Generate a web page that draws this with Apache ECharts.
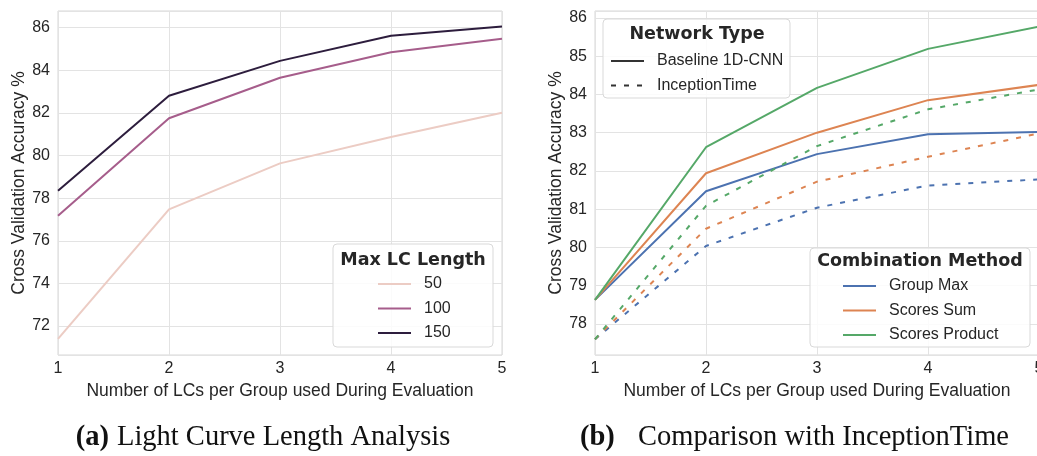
<!DOCTYPE html>
<html>
<head>
<meta charset="utf-8">
<script src="https://cdn.jsdelivr.net/npm/echarts@6/dist/echarts.min.js"></script>
<style>
html,body{margin:0;padding:0;background:#fff;}
#c{width:1037px;height:456px;}
</style>
</head>
<body>
<div id="c"></div>
<script>
// ---- data ----
const groupSizes = [1, 2, 3, 4, 5];

// (a) Light curve length analysis
const lcLengths = ['50', '100', '150'];
const acc50  = [71.40, 77.47, 79.63, 80.87, 82.01];
const acc100 = [77.17, 81.75, 83.65, 84.84, 85.48];
const acc150 = [78.35, 82.80, 84.44, 85.62, 86.05];

// (b) Comparison with InceptionTime
const methods = ['Group Max', 'Scores Sum', 'Scores Product'];
const networkTypes = ['Baseline 1D-CNN', 'InceptionTime'];
const baseGroupMax     = [78.63, 81.47, 82.44, 82.96, 83.02];
const baseScoresSum    = [78.63, 81.94, 83.00, 83.85, 84.25];
const baseScoresProd   = [78.63, 82.62, 84.17, 85.19, 85.77];
const incGroupMax      = [77.60, 80.04, 81.04, 81.62, 81.78];
const incScoresSum     = [77.60, 80.49, 81.72, 82.37, 82.98];
const incScoresProd    = [77.60, 81.09, 82.65, 83.61, 84.13];

const captionA = 'Light Curve Length Analysis';
const captionB = 'Comparison with InceptionTime';

// ---- styling ----
const txt = '#262626';
const gridCol = '#e3e3e3';
const sans = '"Liberation Sans", Arial, sans-serif';
const lcColors = ['#ecccc4', '#a65d8b', '#2d1d3d'];
const mColors = ['#4c72b0', '#dd8452', '#55a868'];
const dashPat = [5, 8];

function pairs(vals) { return groupSizes.map((x, i) => [x, vals[i]]); }

function xAxisCfg(gi) {
  return {
    type: 'value', gridIndex: gi, min: 1, max: 5, minInterval: 1, maxInterval: 1,
    name: 'Number of LCs per Group used During Evaluation',
    nameLocation: 'middle', nameGap: 23,
    nameTextStyle: { color: txt, fontSize: 17.5, fontFamily: sans },
    axisLine: { show: false }, axisTick: { show: false },
    axisLabel: { color: txt, fontSize: 16, fontFamily: sans, margin: 6,
      formatter: v => Number.isInteger(v) ? String(v) : '' },
    splitLine: { show: true, lineStyle: { color: gridCol, width: 1 } }
  };
}
function yAxisCfg(gi, mn, mx, step) {
  return {
    type: 'value', gridIndex: gi, min: mn, max: mx, minInterval: step, maxInterval: step,
    name: 'Cross Validation Accuracy %', nameLocation: 'middle', nameGap: 29,
    nameTextStyle: { color: txt, fontSize: 17.5, fontFamily: sans },
    axisLine: { show: false }, axisTick: { show: false },
    axisLabel: { color: txt, fontSize: 16, fontFamily: sans, margin: 8,
      showMinLabel: false, showMaxLabel: false,
      formatter: v => (Math.abs(v - Math.round(v)) < 1e-6) ? String(Math.round(v)) : '' },
    splitLine: { show: true, lineStyle: { color: gridCol, width: 1 } }
  };
}

function lineSeries(name, vals, color, gi, dashed) {
  return {
    type: 'line', name: name, data: pairs(vals), xAxisIndex: gi, yAxisIndex: gi,
    symbol: 'none', smooth: false, silent: true, animation: false,
    color: color,
    lineStyle: { color: color, width: 2, type: dashed ? dashPat : 'solid' },
    z: 2
  };
}

const series = [
  lineSeries(lcLengths[0], acc50, lcColors[0], 0, false),
  lineSeries(lcLengths[1], acc100, lcColors[1], 0, false),
  lineSeries(lcLengths[2], acc150, lcColors[2], 0, false),
  lineSeries(methods[0], baseGroupMax, mColors[0], 1, false),
  lineSeries(methods[1], baseScoresSum, mColors[1], 1, false),
  lineSeries(methods[2], baseScoresProd, mColors[2], 1, false),
  lineSeries(methods[0], incGroupMax, mColors[0], 1, true),
  lineSeries(methods[1], incScoresSum, mColors[1], 1, true),
  lineSeries(methods[2], incScoresProd, mColors[2], 1, true),
  // legend-only entries for the network type (no data points)
  { type: 'line', name: networkTypes[0], data: [], xAxisIndex: 1, yAxisIndex: 1, symbol: 'none',
    color: '#333333', lineStyle: { color: '#333333', width: 2, type: 'solid' } },
  { type: 'line', name: networkTypes[1], data: [], xAxisIndex: 1, yAxisIndex: 1, symbol: 'none',
    color: '#333333', lineStyle: { color: '#333333', width: 2, type: dashPat } }
];

const legendText = { color: txt, fontSize: 16, fontFamily: sans, padding: [0, 0, 0, 8] };
function legendCfg(data, left, top) {
  return {
    data: data, left: left, top: top, orient: 'vertical', itemWidth: 33, itemHeight: 14,
    itemGap: 8.5, padding: 0, selectedMode: false, textStyle: legendText,
    itemStyle: { opacity: 0 }, z: 10
  };
}

function box(x, y, w, h) {
  return { type: 'rect', z: 5, silent: true,
    shape: { x: x, y: y, width: w, height: h, r: 4 },
    style: { fill: 'rgba(255,255,255,0.85)', stroke: '#d9d9d9', lineWidth: 1 } };
}
function label(text, x, y, opts, align) {
  return { type: 'text', z: 11, silent: true, x: x, y: y,
    style: Object.assign({ text: text, align: align || 'center', verticalAlign: 'middle', fill: txt }, opts) };
}
const boldTitle = { font: 'bold 17.5px "DejaVu Sans", sans-serif' };
const capStyle = { font: '28.5px "Liberation Serif", serif', fill: '#111' };
const capBold = { font: 'bold 28.5px "Liberation Serif", serif', fill: '#111' };

const option = {
  backgroundColor: '#ffffff',
  animation: false,
  grid: [
    { left: 58, top: 11, width: 444, height: 344, show: true, borderColor: '#d6d6d6', borderWidth: 1,
      backgroundColor: 'transparent', containLabel: false, outerBoundsMode: 'none' },
    { left: 595, top: 11, width: 444, height: 344, show: true, borderColor: '#d6d6d6', borderWidth: 1,
      backgroundColor: 'transparent', containLabel: false, outerBoundsMode: 'none' }
  ],
  xAxis: [xAxisCfg(0), xAxisCfg(1)],
  yAxis: [yAxisCfg(0, 70.64, 86.78, 2), yAxisCfg(1, 77.19, 86.18, 1)],
  legend: [
    legendCfg(lcLengths, 377, 276),
    legendCfg(networkTypes, 610, 53),
    legendCfg(methods, 842, 278)
  ],
  series: series,
  graphic: [
    box(333, 244, 160, 103),
    box(603, 19, 187, 79),
    box(810, 248, 220, 99),
    label('Max LC Length', 413, 260, boldTitle),
    label('Network Type', 697, 34, boldTitle),
    label('Combination Method', 920, 261, boldTitle),
    label('(a)', 109, 438, capBold, 'right'),
    label(captionA, 117, 438, capStyle, 'left'),
    label('(b)', 580, 438, capBold, 'left'),
    label(captionB, 638, 438, capStyle, 'left')
  ]
};

const chart = echarts.init(document.getElementById('c'), null, { renderer: 'canvas' });
chart.setOption(option);
</script>
</body>
</html>
